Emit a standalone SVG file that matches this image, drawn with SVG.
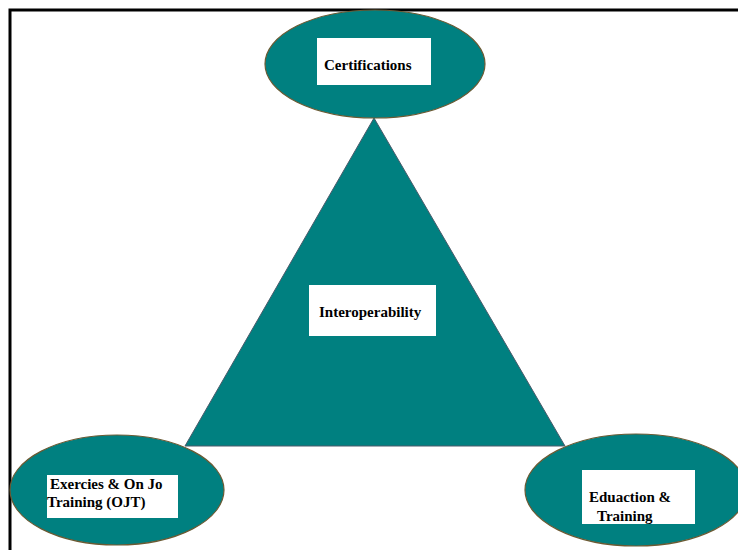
<svg xmlns="http://www.w3.org/2000/svg" width="738" height="550" viewBox="0 0 738 550">
<style>
.shape{fill:#008080}
.ell{stroke:#6b5a33;stroke-width:1.2}
.tri{stroke:#4a5a6a;stroke-width:1}
.box{fill:#ffffff}
.lbl{font-family:"Liberation Serif","Times New Roman",serif;font-weight:bold;font-size:15px;fill:#000}
.frame{stroke:#000;stroke-width:3;fill:none}
</style>
<rect width="738" height="550" fill="#ffffff"/>
<path class="frame" d="M10,551 L10,10 L738,10"/>
<g id="interoperability">
<polygon class="shape tri" points="374,118 185,446 565,446"/>
<rect class="box" x="309" y="285" width="127" height="51"/>
<text class="lbl" x="319" y="317">Interoperability</text>
</g>
<g id="certifications">
<ellipse class="shape ell" cx="375" cy="64" rx="110" ry="54"/>
<rect class="box" x="317" y="38" width="114" height="47"/>
<text class="lbl" x="324" y="70">Certifications</text>
</g>
<g id="exercises">
<ellipse class="shape ell" cx="117" cy="490" rx="107" ry="55"/>
<rect class="box" x="47" y="475" width="131" height="43"/>
<text class="lbl" x="50" y="489">Exercies &amp; On Jo</text>
<text class="lbl" x="47" y="507">Training (OJT)</text>
</g>
<g id="education">
<ellipse class="shape ell" cx="636" cy="490" rx="111" ry="56"/>
<rect class="box" x="582" y="470" width="113" height="54"/>
<text class="lbl" x="589" y="502">Eduaction &amp;</text>
<text class="lbl" x="597" y="521">Training</text>
</g>
<g id="connectors"></g>
</svg>
